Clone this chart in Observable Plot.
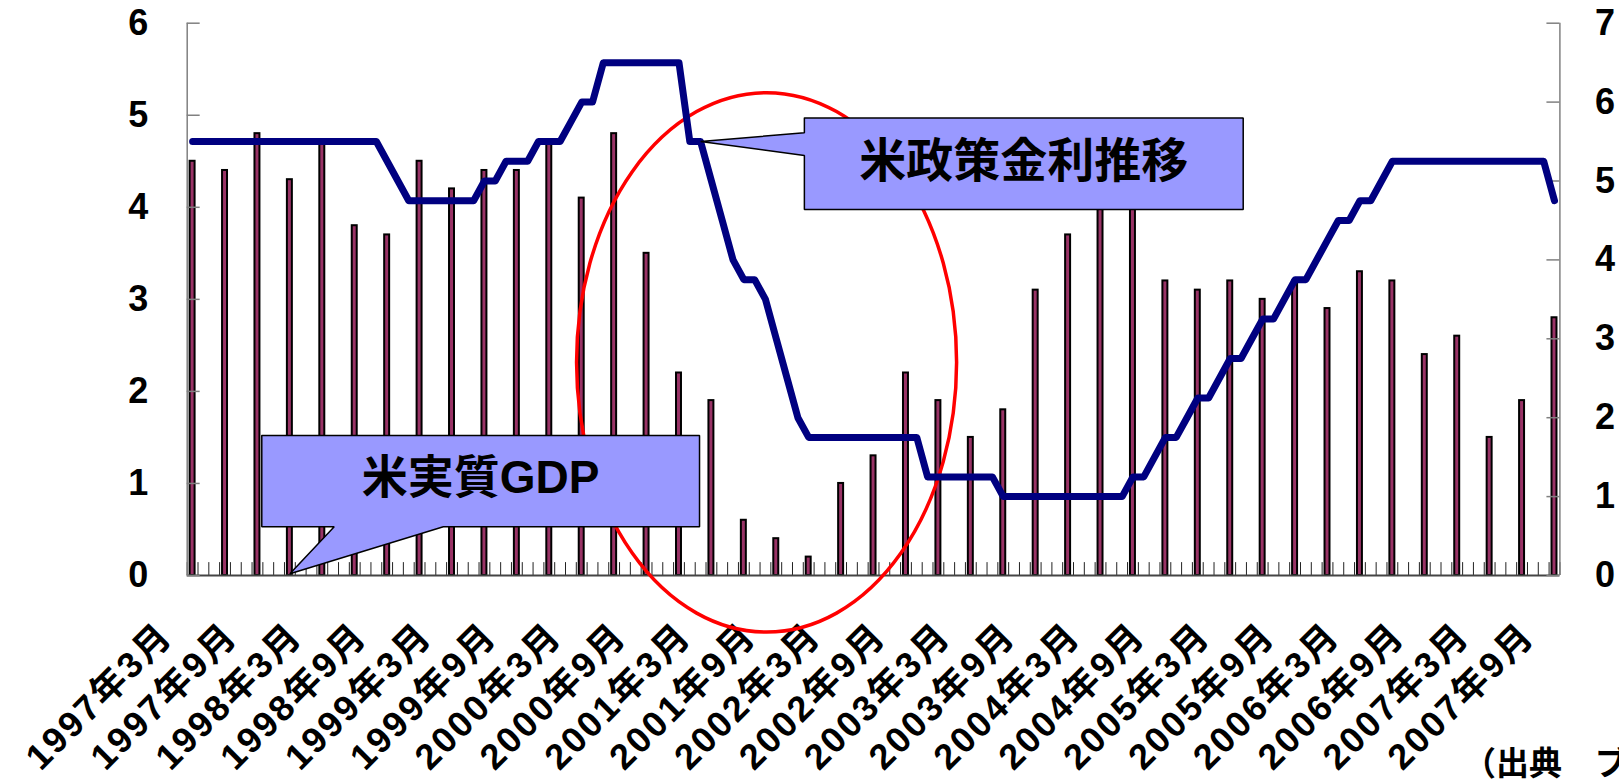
<!DOCTYPE html>
<html><head><meta charset="utf-8">
<script src="https://cdn.jsdelivr.net/npm/d3@7"></script>
<script src="https://cdn.jsdelivr.net/npm/@observablehq/plot@0.6"></script>
<style>
html,body{margin:0;padding:0;background:#fff;overflow:hidden;}
#chart svg{display:block;overflow:visible;}
</style></head><body><div id="chart"></div>
<script>
// Monthly category axis: 1997年3月 (index 0) … 2007年9月 (index 126)
const monthCount = 127;
const xTickLabels = ["1997年3月","1997年9月","1998年3月","1998年9月","1999年3月","1999年9月","2000年3月","2000年9月","2001年3月","2001年9月","2002年3月","2002年9月","2003年3月","2003年9月","2004年3月","2004年9月","2005年3月","2005年9月","2006年3月","2006年9月","2007年3月","2007年9月"];
// 米実質GDP (quarterly, left axis %)
const gdpQuarterly = [4.5,4.4,4.8,4.3,4.7,3.8,3.7,4.5,4.2,4.4,4.4,4.7,4.1,4.8,3.5,2.2,1.9,0.6,0.4,0.2,1.0,1.3,2.2,1.9,1.5,1.8,3.1,3.7,4.3,4.5,3.2,3.1,3.2,3.0,3.2,2.9,3.3,3.2,2.4,2.6,1.5,1.9,2.8];
// 米政策金利 (monthly, right axis %)
const policyRate = [
5.5,5.5,5.5,5.5,5.5,5.5,5.5,5.5,5.5,5.5,5.5,5.5,5.5,5.5,5.5,5.5,5.5,5.5,
5.25,5.0,
4.75,4.75,4.75,4.75,4.75,4.75,4.75,
5.0,5.0,5.25,5.25,5.25,5.5,5.5,5.5,5.75,6.0,6.0,
6.5,6.5,6.5,6.5,6.5,6.5,6.5,6.5,
5.5,5.5,5.0,4.5,4.0,3.75,3.75,3.5,3.0,2.5,2.0,
1.75,1.75,1.75,1.75,1.75,1.75,1.75,1.75,1.75,1.75,1.75,
1.25,1.25,1.25,1.25,1.25,1.25,1.25,
1.0,1.0,1.0,1.0,1.0,1.0,1.0,1.0,1.0,1.0,1.0,1.0,
1.25,1.25,1.5,1.75,1.75,2.0,2.25,2.25,2.5,2.75,2.75,3.0,3.25,3.25,3.5,3.75,3.75,4.0,4.25,4.5,4.5,4.75,4.75,5.0,
5.25,5.25,5.25,5.25,5.25,5.25,5.25,5.25,5.25,5.25,5.25,5.25,5.25,5.25,5.25,
4.75];
const leftTicks = [0,1,2,3,4,5,6];
const rightTicks = [0,1,2,3,4,5,6,7];
const leftMax = 6, rightMax = 7;
// Annotation shapes (data units: x = month index, y = left-axis value)
const calloutGDP = [[6.4,1.52],[46.9,1.52],[46.9,0.53],[23.2,0.53],[9,0.02],[13.1,0.53],[6.4,0.53],[6.4,1.52]];
const calloutGDPText = {x: 26.65, y: 1.06, text: "米実質GDP"};
const calloutRate = [[56.6,4.97],[97.2,4.97],[97.2,3.976],[56.6,3.976],[56.6,4.563],[47,5.5*6/7],[56.6,4.81],[56.6,4.97]];
const calloutRateText = {x: 76.9, y: 4.49, text: "米政策金利推移"};
const highlightEllipse = {cx: 53.15, cy: 2.31, rx: 17.58, ry: 2.93};
const sourceNote = "（出典　ブルームバーグ）";

const FONT = '"Liberation Sans","Noto Sans CJK JP",sans-serif';
const rateToLeft = r => r * leftMax / rightMax;
const tickLenX = 1.2;   // month units
const tickLenY = 0.14;  // value units

function ellipseMark(index, scales) {
  const {x, y} = scales;
  const cx = x(highlightEllipse.cx), cy = y(highlightEllipse.cy);
  const rx = Math.abs(x(highlightEllipse.cx + highlightEllipse.rx) - cx);
  const ry = Math.abs(y(highlightEllipse.cy + highlightEllipse.ry) - cy);
  const e = document.createElementNS("http://www.w3.org/2000/svg", "ellipse");
  e.setAttribute("cx", cx); e.setAttribute("cy", cy);
  e.setAttribute("rx", rx); e.setAttribute("ry", ry);
  e.setAttribute("fill", "none"); e.setAttribute("stroke", "#ff0000");
  e.setAttribute("stroke-width", 3.5);
  return e;
}

const boundaries = d3.range(monthCount + 1).map(i => i - 0.5);

const chart = Plot.plot({
  width: 1619, height: 784,
  marginLeft: 186.7, marginRight: 59.6, marginTop: 22.7, marginBottom: 209,
  x: {domain: [-0.5, monthCount - 0.5], axis: null},
  y: {domain: [0, leftMax], axis: null},
  style: {fontFamily: FONT, background: "white", overflow: "visible"},
  marks: [
    Plot.ruleX(boundaries, {x: d => d, y1: 0, y2: tickLenY, stroke: "#222", strokeWidth: 1}),
    Plot.rect(gdpQuarterly, {x1: (d, i) => i * 3 - 0.23, x2: (d, i) => i * 3 + 0.23, y1: 0, y2: d => d, fill: "#993366", stroke: "#000", strokeWidth: 2}),
    Plot.ruleY([0], {stroke: "#444", strokeWidth: 2}),
    Plot.ruleX([-0.5], {y1: 0, y2: leftMax, stroke: "#808080", strokeWidth: 1.5}),
    Plot.ruleY(leftTicks, {y: d => d, x1: -0.5, x2: -0.5 + tickLenX, stroke: "#808080", strokeWidth: 1.5}),
    Plot.text(leftTicks, {x: -0.5, y: d => d, text: d => String(d), textAnchor: "end", dx: -39, fontSize: 36, fontWeight: "bold", fill: "#000"}),
    Plot.ruleX([monthCount - 0.5], {y1: 0, y2: leftMax, stroke: "#808080", strokeWidth: 1.5}),
    Plot.ruleY(rightTicks, {y: d => rateToLeft(d), x1: monthCount - 0.5 - tickLenX, x2: monthCount - 0.5, stroke: "#808080", strokeWidth: 1.5}),
    Plot.text(rightTicks, {x: monthCount - 0.5, y: d => rateToLeft(d), text: d => String(d), textAnchor: "start", dx: 35, fontSize: 36, fontWeight: "bold", fill: "#000"}),
    Plot.text(xTickLabels, {x: (d, i) => i * 6, y: 0, text: d => d, rotate: -45, textAnchor: "end", dx: -26, dy: 54, fontSize: 36, fontWeight: "bold", fill: "#000"}),
    ellipseMark,
    Plot.line(policyRate, {x: (d, i) => i, y: d => rateToLeft(d), stroke: "#000080", strokeWidth: 7, strokeLinejoin: "round", strokeLinecap: "round"}),
    Plot.line(calloutGDP, {x: d => d[0], y: d => d[1], fill: "#9999ff", stroke: "#000", strokeWidth: 1.5, strokeLinejoin: "miter"}),
    Plot.text([calloutGDPText], {x: "x", y: "y", text: "text", fontSize: 46, fontWeight: "bold", fill: "#000"}),
    Plot.line(calloutRate, {x: d => d[0], y: d => d[1], fill: "#9999ff", stroke: "#000", strokeWidth: 1.5, strokeLinejoin: "miter"}),
    Plot.text([calloutRateText], {x: "x", y: "y", text: "text", fontSize: 47, fontWeight: "bold", fill: "#000"}),
    Plot.text([sourceNote], {frameAnchor: "bottom-right", text: d => d, textAnchor: "start", dx: -97, dy: 199, fontSize: 33, fontWeight: "bold", fill: "#000"})
  ]
});
chart.querySelectorAll("text").forEach(t => {
  if (/年.*月/.test(t.textContent)) t.style.letterSpacing = "2.5px";
});
document.getElementById("chart").appendChild(chart);
</script></body></html>
